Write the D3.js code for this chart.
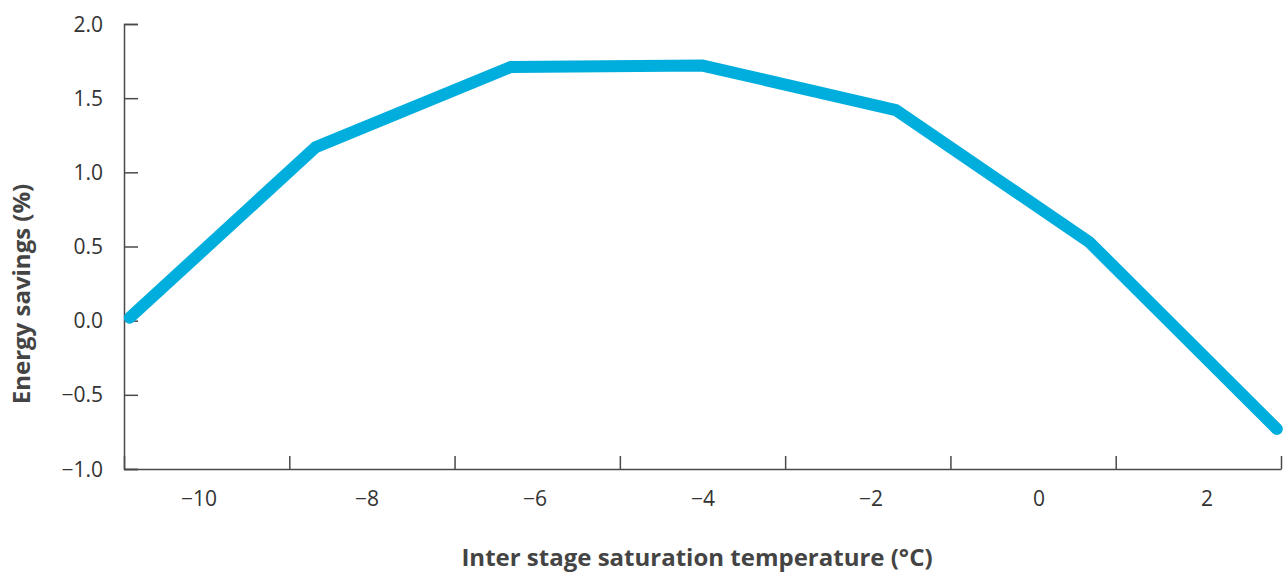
<!DOCTYPE html>
<html lang="en">
<head>
  <meta charset="UTF-8">
  <title>Energy savings vs inter stage saturation temperature</title>
  <script src="https://d3js.org/d3.v7.min.js"></script>
  <style>
    body {
      background: #fff;
      margin: 0;
    }
    .tick-label {
      font-family: 'Open Sans', sans-serif;
      font-size: 21px;
      fill: #333;
    }
    .axis-title {
      font-family: 'Open Sans', sans-serif;
      font-size: 24px;
      font-weight: 700;
      fill: #444;
    }
  </style>
</head>
<body>
  <script>
    // data
    var temps = [-10.93, -8.68, -6.32, -4.0, -1.66, 0.68, 2.95];
    var savings = [0.02, 1.17, 1.71, 1.72, 1.42, 0.53, -0.73];

    var yTicks = [-1.0, -0.5, 0.0, 0.5, 1.0, 1.5, 2.0];
    var xTickMarks = [-11, -9, -7, -5, -3, -1, 1, 3];
    var xTickLabels = [-10, -8, -6, -4, -2, 0, 2];

    var width = 1285, height = 575;
    var axisColor = "#4a4a4a";

    var svg = d3.select("body").append("svg")
      .attr("width", width)
      .attr("height", height);

    var x = d3.scaleLinear().domain([-11, 3]).range([124, 1281]);
    var xLabel = d3.scaleLinear().domain([-10, 2]).range([199, 1207]);
    var y = d3.scaleLinear().domain([-1, 2]).range([469, 24]);

    // y axis (ticks point inward)
    var yAxis = svg.append("g")
      .attr("transform", "translate(" + x(-11) + ",0)")
      .call(d3.axisRight(y).tickValues(yTicks).tickSize(14).tickFormat(""));
    yAxis.select(".domain").attr("stroke", axisColor).attr("stroke-width", 1.5);
    yAxis.selectAll(".tick line").attr("stroke", axisColor).attr("stroke-width", 1.5);

    svg.append("g").selectAll("text")
      .data(yTicks)
      .enter()
      .append("text")
      .classed("tick-label", true)
      .attr("x", 103)
      .attr("y", function(d) { return y(d); })
      .attr("dy", "0.36em")
      .attr("text-anchor", "end")
      .text(function(d) { return d3.format(".1f")(d).replace("-", "\u2212"); });

    // x axis (ticks point up)
    var xAxis = svg.append("g")
      .attr("transform", "translate(0," + y(-1) + ")")
      .call(d3.axisTop(x).tickValues(xTickMarks).tickSize(13).tickSizeOuter(0).tickFormat(""));
    xAxis.select(".domain").attr("stroke", axisColor).attr("stroke-width", 1.5);
    xAxis.selectAll(".tick line").attr("stroke", axisColor).attr("stroke-width", 1.5);

    svg.append("g").selectAll("text")
      .data(xTickLabels)
      .enter()
      .append("text")
      .classed("tick-label", true)
      .attr("x", function(d) { return xLabel(d); })
      .attr("y", 506)
      .attr("text-anchor", "middle")
      .text(function(d) { return String(d).replace("-", "\u2212"); });

    // axis titles
    svg.append("text")
      .classed("axis-title", true)
      .attr("x", 697)
      .attr("y", 566)
      .attr("text-anchor", "middle")
      .text("Inter stage saturation temperature (°C)");

    svg.append("text")
      .classed("axis-title", true)
      .attr("transform", "translate(30,294) rotate(-90)")
      .attr("text-anchor", "middle")
      .text("Energy savings (%)");

    // the line
    var points = temps.map(function(t, i) { return [t, savings[i]]; });
    var line = d3.line()
      .x(function(d) { return x(d[0]); })
      .y(function(d) { return y(d[1]); });

    svg.append("path")
      .datum(points)
      .attr("d", line)
      .attr("fill", "none")
      .attr("stroke", "#00aede")
      .attr("stroke-width", 12)
      .attr("stroke-linecap", "round")
      .attr("stroke-linejoin", "miter");
  </script>
</body>
</html>
